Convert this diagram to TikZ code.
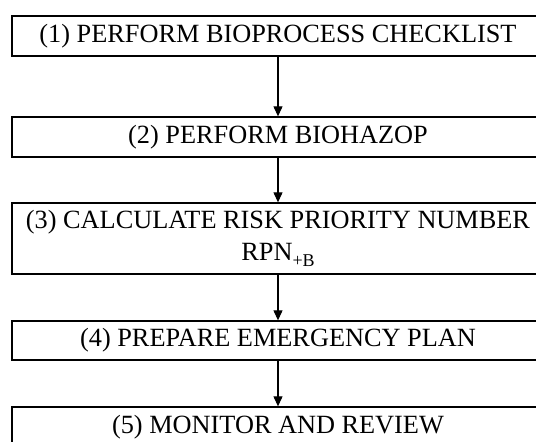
\documentclass[tikz,border=0pt]{standalone}
\usepackage{fontspec}
\setmainfont{Liberation Serif}
\usetikzlibrary{arrows.meta}
\newcommand{\subtxt}[1]{\raisebox{-6pt}{\fontsize{18}{18}\selectfont #1}}
\begin{document}
\begin{tikzpicture}[x=1pt,y=1pt,
  stepbox/.style={draw=black, line width=1.3pt, rectangle, minimum width=532pt, inner sep=0pt, align=center, font=\fontsize{26.3}{32}\selectfont},
  flow/.style={draw=black, line width=1.1pt, -{Triangle[length=10pt,width=9pt]}}]
\useasboundingbox (0,0) rectangle (536,442);
\node[stepbox, minimum height=40pt] (s1) at (278,406) {(1) PERFORM BIOPROCESS CHECKLIST};
\node[stepbox, minimum height=40pt] (s2) at (278,305) {(2) PERFORM BIOHAZOP};
\node[stepbox, minimum height=71pt] (s3) at (278,203.5) {(3) CALCULATE RISK PRIORITY NUMBER\\RPN\subtxt{+B}};
\node[stepbox, minimum height=39pt] (s4) at (278,101.5) {(4) PREPARE EMERGENCY PLAN};
\node[stepbox, minimum height=40pt] (s5) at (278,15) {(5) MONITOR AND REVIEW};
\draw[flow] (s1) -- (s2);
\draw[flow] (s2) -- (s3);
\draw[flow] (s3) -- (s4);
\draw[flow] (s4) -- (s5);
\end{tikzpicture}
\end{document}
